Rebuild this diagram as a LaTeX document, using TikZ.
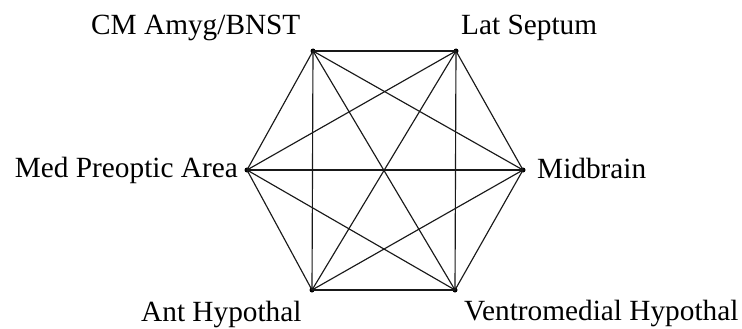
\documentclass[tikz,border=0pt]{standalone}
\usepackage{fontspec}
\setmainfont{Liberation Serif}
\begin{document}
\begin{tikzpicture}[x=1pt,y=-1pt,
  vtx/.style={circle,fill=black,inner sep=0pt,minimum size=5pt},
  lbl/.style={font=\fontsize{29.3}{32}\selectfont,inner sep=0pt},
  link/.style={line width=1.15pt,draw=black!90}]
\useasboundingbox (0,0) rectangle (742,329);
\node[vtx] (cm) at (313,51) {};
\node[vtx] (ls) at (456,51) {};
\node[vtx] (mb) at (523,170) {};
\node[vtx] (vm) at (455,290) {};
\node[vtx] (ah) at (312,290) {};
\node[vtx] (mp) at (247,170) {};
\node[lbl,anchor=base west] (cmL) at (91,35) {CM Amyg/BNST};
\node[lbl,anchor=base west] (lsL) at (461,35) {Lat Septum};
\node[lbl,anchor=base east] (mpL) at (238,177) {Med Preoptic Area};
\node[lbl,anchor=base west] (mbL) at (537,178) {Midbrain};
\node[lbl,anchor=base west] (ahL) at (141,321) {Ant Hypothal};
\node[lbl,anchor=base west] (vmL) at (464,320) {Ventromedial Hypothal};
\foreach \a/\b in {cm/ls,cm/mb,cm/vm,cm/ah,cm/mp,ls/mb,ls/vm,ls/ah,ls/mp,mb/vm,mb/ah,mb/mp,vm/ah,vm/mp,ah/mp}
  \draw[link] (\a.center) -- (\b.center);
\end{tikzpicture}
\end{document}
